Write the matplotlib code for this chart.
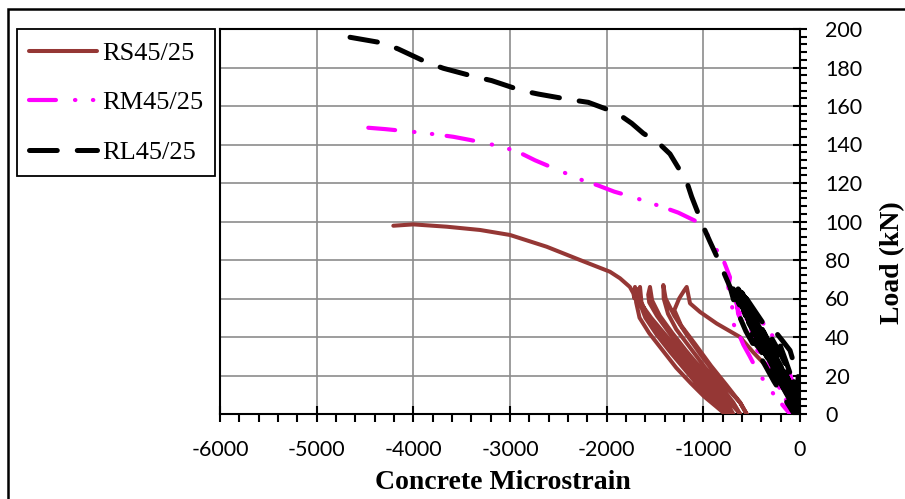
import numpy as np
import matplotlib
matplotlib.use('Agg')
import matplotlib.pyplot as plt
from matplotlib.ticker import MultipleLocator
from matplotlib.patches import Rectangle

plt.rcParams['axes.unicode_minus'] = False
plt.rcParams['lines.scale_dashes'] = False

# RS45/25 (solid brown): monotonic part then load/unload cycles
rs_strain = [-4207, -4000, -3655, -3310, -3000, -2621, -2276, -1966, -1862, -1760, -1724, -1712, -1707,
             -1695, -1660, -1560, -1420, -1280, -1130, -990, -870, -776,
             -820, -940, -1080, -1230, -1380, -1530, -1640, -1680, -1672,
             -1660, -1600, -1480, -1340, -1190, -1040, -900, -740,
             -800, -930, -1080, -1230, -1390, -1540, -1640, -1660, -1655,
             -1640, -1580, -1460, -1320, -1170, -1030, -880, -690,
             -760, -900, -1050, -1200, -1350, -1480, -1560, -1570, -1552,
             -1530, -1450, -1320, -1180, -1030, -880, -740, -620,
             -690, -830, -980, -1130, -1280, -1365, -1410, -1414,
             -1390, -1300, -1170, -1030, -880, -730, -620, -552,
             -620, -760, -920, -1080, -1230, -1300, -1250, -1200, -1172,
             -1138, -1034, -862, -621, -483, -350, -224]
rs_load = [97.8, 98.5, 97.3, 95.6, 93.0, 86.9, 80.0, 73.9, 70.5, 66.0, 62.7, 60, 66,
           58, 50, 42, 33, 24, 16, 9, 4, 0,
           5, 12, 20, 29, 39, 48, 56, 61, 65,
           58, 50, 41, 32, 23, 14, 7, 0,
           6, 13, 22, 31, 41, 50, 57, 62, 66,
           58, 51, 42, 33, 24, 16, 8, 0,
           6, 14, 23, 32, 42, 51, 58, 62, 66,
           59, 51, 42, 33, 24, 15, 7, 0,
           6, 15, 24, 34, 44, 52, 60, 67,
           60, 51, 41, 31, 21, 12, 6, 0,
           6, 15, 25, 36, 46, 54, 60, 64, 66,
           57.5, 53, 47, 40, 32, 25, 20]

# RM45/25 (magenta dash-dot-dot)
rm_strain = [-4466, -4293, -3948, -3776, -3586, -3407, -3086, -2914, -2741, -2586, -2259,
             -2093, -1921, -1741, -1431, -1259, -1086, -966, -862, -793, -724,
             -741, -700, -690, -620, -586, -520, -448, -330, -220, -103,
             -150, -230, -320, -420, -530, -640, -672,
             -640, -560, -470, -370, -260, -150, -70,
             -100, -180, -280, -380, -480, -580, -655,
             -560, -450, -340, -230, -130, -60,
             -120, -210, -310, -420, -520, -610, -690,
             -640, -600, -520, -430, -330, -220, -110, -40,
             -86, -155, -260, -379, -470, -540,
             -440, -330, -230, -150, -90, -52]
rm_load = [148.7, 148.0, 146.3, 145.3, 144.0, 142.3, 138.9, 136.1, 131.8, 128.5, 121.6,
           118.8, 115.5, 112.9, 107.7, 104.6, 100.4, 93.9, 85.2, 80.0, 71.0,
           66, 55, 47, 40, 36, 30, 23, 14, 7, 0,
           8, 17, 27, 36, 46, 58, 66,
           52, 44, 36, 28, 18, 8, 0,
           10, 20, 31, 40, 48, 57, 65,
           52, 44, 35, 26, 14, 0,
           8, 17, 27, 37, 46, 55, 64,
           54, 46, 39, 32, 24, 15, 6, 0,
           18, 28, 39, 47, 52, 56,
           44, 35, 26, 15, 6, 1]

# RL45/25 (black dashed)
rl_strain = [-4655, -4311, -4155, -3862, -3690, -3362, -3190, -2879, -2707, -2379, -2190,
             -1896, -1741, -1621, -1466, -1345, -1172, -1121, -1000, -931, -862, -793, -724,
             -680, -620, -560, -470, -380, -270, -160, -60,
             -90, -170, -280, -390, -500, -600, -690,
             -640, -560, -470, -380, -280, -170, -40,
             -90, -190, -300, -410, -520, -640,
             -586, -483, -379, -280, -170, -60, 0,
             -60, -160, -260, -360, -460, -560, -621,
             -500, -379, -300, -200, -110, -20, 0,
             -80, -200, -330, -450, -560, -660,
             -600, -520, -430, -330, -220, -110, -30,
             -70, -170, -290, -400, -500, -600,
             -540, -450, -360, -260, -150, -50, 0,
             -60, -150, -260, -370, -480, -580, -670,
             -610, -530, -440, -350, -250, -140, -20,
             -100, -210, -320, -430, -540, -640,
             -560, -470, -380, -290, -190, -80, 0,
             -50, -140, -241, -350, -460, -517,
             -420, -310, -200, -103, -20, 0,
             -60, -150, -259, -180, -103, -50, -20, -20, 0]
rl_load = [195.7, 192.7, 189.6, 182.7, 179.6, 175.2, 173.2, 168.0, 166.2, 163.3, 161.9,
           156.4, 151.0, 145.8, 140.9, 135.1, 120.7, 112.9, 97.3, 89.5, 82.0, 74.0, 66.0,
           58, 50, 43, 35, 27, 17, 8, 0,
           8, 16, 26, 36, 46, 56, 65,
           58, 50, 42, 34, 25, 14, 0,
           12, 22, 32, 42, 52, 63,
           59, 49, 38, 29, 18, 6, 0,
           10, 20, 30, 40, 48, 58, 65,
           56, 47, 40, 31, 22, 12, 0,
           14, 26, 38, 50, 60, 66,
           56, 47, 38, 29, 19, 9, 0,
           12, 23, 34, 45, 54, 63,
           54, 45, 36, 27, 16, 4, 0,
           8, 18, 28, 38, 48, 57, 64,
           57, 49, 40, 32, 22, 11, 0,
           14, 26, 36, 46, 56, 65,
           50, 42, 33, 25, 15, 5, 0,
           10, 19, 28, 37, 44, 40,
           34, 25, 16, 10, 3, 0,
           15, 28, 43, 38, 33, 24, 21, 5, 0]

fig = plt.figure(figsize=(9.05, 4.99), dpi=100)
ax = fig.add_axes([220/905, 1-414/499, 580/905, 385/499])

ax.plot(rs_strain, rs_load, color='#953735', lw=2.9, label='RS45/25', zorder=3,
        solid_joinstyle='round', solid_capstyle='round')
ax.plot(rm_strain, rm_load, color='#ff00ff', lw=3.0, label='RM45/25', zorder=4,
        dashes=(19.4, 13.7, 0.3, 12.6, 0.3, 10.4), dash_capstyle='round')
ax.plot(rl_strain, rl_load, color='black', lw=3.6, label='RL45/25', zorder=5,
        dashes=(20, 14.4), dash_capstyle='round')

ax.set_xlim(-6000, 0)
ax.set_ylim(0, 200)
ax.xaxis.set_major_locator(MultipleLocator(1000))
ax.xaxis.set_minor_locator(MultipleLocator(200))
ax.yaxis.set_major_locator(MultipleLocator(20))
ax.yaxis.set_minor_locator(MultipleLocator(4))
ax.yaxis.tick_right()
ax.yaxis.set_label_position('right')

ax.grid(True, which='major', color='#8c8c8c', lw=1.2, zorder=0)
ax.set_axisbelow(True)
for s in ax.spines.values():
    s.set_color('black')
    s.set_linewidth(1.5)

ax.tick_params(axis='x', which='major', direction='inout', length=11.5, width=1.5, pad=13)
ax.tick_params(axis='x', which='minor', direction='out', length=5.8, width=1.5)
ax.tick_params(axis='y', which='major', direction='inout', length=10, width=1.5, pad=13)
ax.tick_params(axis='y', which='minor', direction='out', length=5, width=1.5)
for lab in ax.get_xticklabels() + ax.get_yticklabels():
    lab.set_fontfamily('Lato')
    lab.set_fontsize(15.5)

ax.set_xlabel('Concrete Microstrain', fontfamily='Liberation Serif', fontweight='bold',
              fontsize=20)
ax.xaxis.set_label_coords(0.487, -0.177)
ax.xaxis.label.set_va('center')
ax.set_ylabel('Load (kN)', fontfamily='Liberation Serif', fontweight='bold', fontsize=20,
              rotation=90)
ax.yaxis.set_label_coords(1.16, 0.392)
ax.yaxis.label.set_va('center')

leg = ax.legend(loc='upper left', bbox_to_anchor=(17/905, 1-29/499), bbox_transform=fig.transFigure,
                borderaxespad=0, fancybox=False, edgecolor='black', framealpha=1,
                prop={'family': 'Liberation Serif', 'size': 19},
                handlelength=2.55, handletextpad=0.2, borderpad=0.47, labelspacing=0.985)
leg.get_frame().set_linewidth(1.3)

# outer chart border
fig.add_artist(Rectangle((8/905, -0.1), 1.1, 1.1 - 9/499, transform=fig.transFigure,
                         fill=False, edgecolor='black', lw=1.8))

plt.savefig('out.png', dpi=100)
